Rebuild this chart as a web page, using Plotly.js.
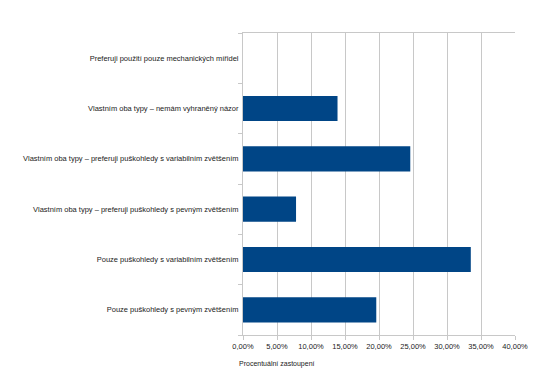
<!DOCTYPE html>
<html>
<head>
<meta charset="utf-8">
<script src="https://cdn.plot.ly/plotly-3.0.1.min.js"></script>
<style>html,body{margin:0;padding:0;background:#fff;}#chart{width:550px;height:382px;}</style>
</head>
<body>
<div id="chart"></div>
<script>
const categories = [
  "Pouze puškohledy s pevným zvětšením",
  "Pouze puškohledy s variabilním zvětšením",
  "Vlastním oba typy – preferuji puškohledy s pevným zvětšením",
  "Vlastním oba typy – preferuji puškohledy s variabilním zvětšením",
  "Vlastním oba typy – nemám vyhraněný názor",
  "Preferuji použití pouze mechanických mířidel"
];
const values = [19.6, 33.5, 7.8, 24.6, 13.9, 0];
const xTicks = [0, 5, 10, 15, 20, 25, 30, 35, 40];
const xTickLabels = ["0,00%", "5,00%", "10,00%", "15,00%", "20,00%", "25,00%", "30,00%", "35,00%", "40,00%"];
const axisTitle = "Procentuální zastoupení";

const trace = {
  type: 'bar',
  orientation: 'h',
  y: categories,
  x: values,
  width: 0.5,
  marker: {color: '#004586', line: {width: 0}},
  hoverinfo: 'x+y'
};

const layout = {
  width: 550, height: 382,
  margin: {l: 243, r: 35, t: 33, b: 47},
  paper_bgcolor: '#fff', plot_bgcolor: '#fff',
  font: {family: 'Liberation Sans, Arial, sans-serif', size: 7.5, color: '#222'},
  showlegend: false,
  xaxis: {
    range: [0, 40],
    tickvals: xTicks,
    ticktext: xTickLabels,
    showgrid: true, gridcolor: '#c8c8c8', gridwidth: 1,
    zeroline: false,
    showline: true, linecolor: '#c8c8c8', linewidth: 1, mirror: true,
    ticks: 'outside', ticklen: 4, tickcolor: '#c8c8c8',
    tickfont: {size: 7.5}
  },
  yaxis: {
    type: 'category',
    categoryorder: 'array', categoryarray: categories,
    tickson: 'boundaries',
    ticks: 'outside', ticklen: 4, tickcolor: '#c8c8c8',
    ticklabelstandoff: 2,
    showline: true, linecolor: '#c8c8c8', linewidth: 1,
    showgrid: false, zeroline: false,
    tickfont: {size: 7.5},
    automargin: false
  },
  annotations: [{
    text: axisTitle, xref: 'paper', yref: 'paper',
    x: -0.022, y: 0, xanchor: 'left', yanchor: 'top', yshift: -23,
    showarrow: false, font: {size: 7, color: '#222'}
  }]
};

Plotly.newPlot('chart', [trace], layout, {displayModeBar: false, staticPlot: true});
</script>
</body>
</html>
